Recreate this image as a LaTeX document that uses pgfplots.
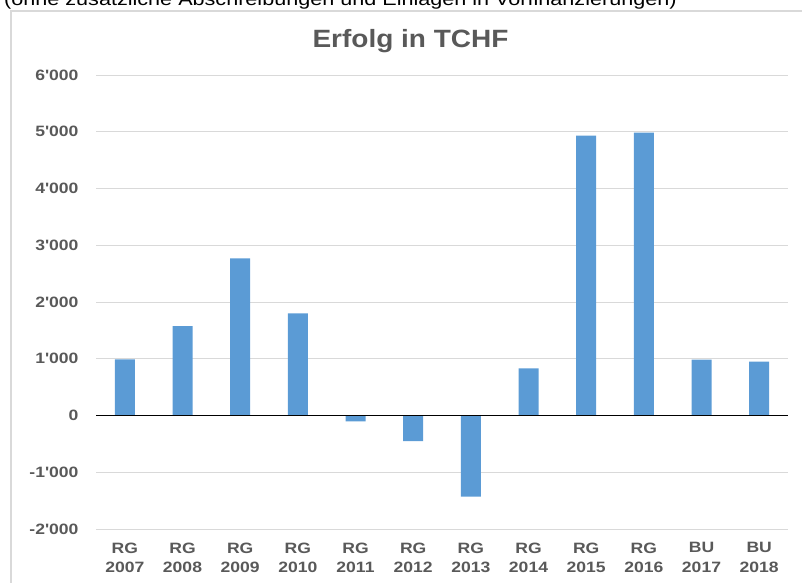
\documentclass[border=0pt]{standalone}
\usepackage{pgfplots}
\pgfplotsset{compat=1.18}
\usepackage{fontspec}
\newfontfamily\arial{Liberation Sans}
\definecolor{txtgray}{HTML}{595959}
\definecolor{gridgray}{HTML}{D9D9D9}
\definecolor{barblue}{HTML}{5B9BD5}
\newcommand\sx[1]{\scalebox{1.17}[1]{#1}}
\begin{document}
\begin{tikzpicture}[x=1pt,y=1pt]
\begin{scope}
\clip (0,0) rectangle (802,582);
\draw[gridgray, line width=1.6pt] (11,-20) -- (11,571) -- (830,571);
\node[anchor=base west, inner sep=0pt, font=\arial\fontsize{18}{21}\selectfont, text=black] at (4,576) {\scalebox{1.2}[1]{(ohne zusätzliche Abschreibungen und Einlagen in Vorfinanzierungen)}};
\node[anchor=base, inner sep=0pt, font=\arial\bfseries\fontsize{25}{30}\selectfont, text=txtgray] at (410.5,534) {\scalebox{1.12}[1]{Erfolg in TCHF}};
\begin{axis}[
  at={(96pt,53pt)}, anchor=south west,
  width=692pt, height=454pt, scale only axis,
  xmin=-0.5, xmax=11.5, ymin=-2000, ymax=6000,
  axis line style={draw=none},
  ytick={-2000,-1000,0,1000,2000,3000,4000,5000,6000},
  yticklabels={\sx{-2'000},\sx{-1'000},\sx{0},\sx{1'000},\sx{2'000},\sx{3'000},\sx{4'000},\sx{5'000},\sx{6'000}},
  xtick={0,...,11},
  xticklabels={{RG\\2007},{RG\\2008},{RG\\2009},{RG\\2010},{RG\\2011},{RG\\2012},{RG\\2013},{RG\\2014},{RG\\2015},{RG\\2016},{BU\\2017},{BU\\2018}},
  x tick label style={font=\arial\bfseries\fontsize{15}{19.5}\selectfont, text=txtgray, align=center, anchor=north, yshift=-10pt, xscale=1.17},
  y tick label style={font=\arial\bfseries\fontsize{15}{18}\selectfont, text=txtgray, anchor=east, xshift=-14pt},
  major tick length=0pt,
  ymajorgrids, grid style={gridgray, line width=1pt},
  clip=false,
]
\addplot[ybar, bar width=20pt, fill=barblue, draw=none] coordinates {
(0,990) (1,1575) (2,2770) (3,1800) (4,-105) (5,-450) (6,-1430) (7,830) (8,4930) (9,4985) (10,985) (11,950)
};
\draw[black, line width=1pt] (axis cs:-0.5,0) -- (axis cs:11.5,0);
\end{axis}
\end{scope}
\pgfresetboundingbox
\useasboundingbox (0,0) rectangle (802,582);
\end{tikzpicture}
\end{document}
